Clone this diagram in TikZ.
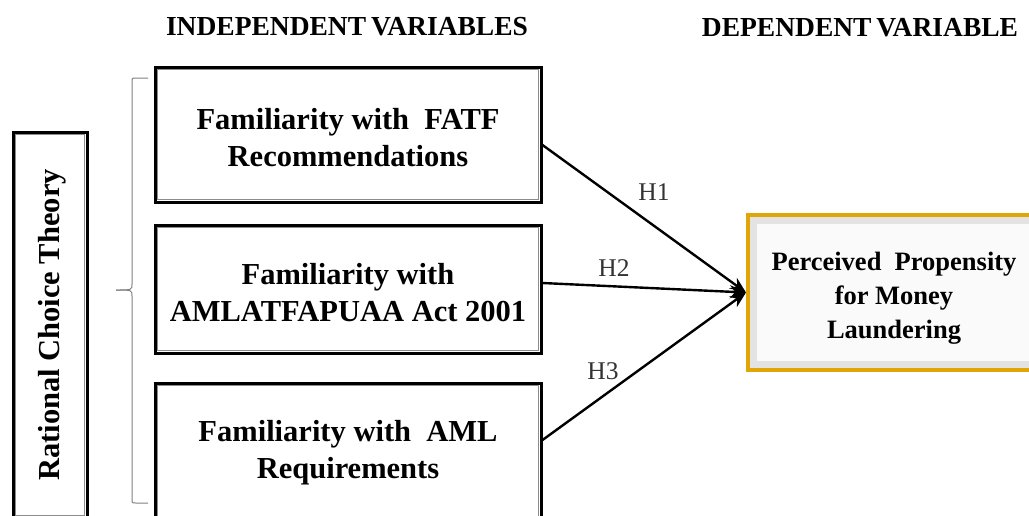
\documentclass[tikz,border=0pt]{standalone}
\usepackage{fontspec}
\setmainfont{Liberation Serif}
\usetikzlibrary{arrows.meta,shadows}
\definecolor{gold}{HTML}{E0A608}
\definecolor{framegray}{HTML}{8C8C8C}
\definecolor{bracegray}{HTML}{808080}
\tikzset{
  ivfont/.style={font=\bfseries\fontsize{30.5}{37}\selectfont},
  ivbox/.style={draw=black, line width=3pt, fill=white, minimum width=386pt,
    align=center, inner sep=0pt, ivfont,
    drop shadow={shadow xshift=1.2pt, shadow yshift=-1.2pt, opacity=0.3, fill=gray},
    path picture={\draw[framegray, line width=1.5pt]
      ([shift={(2.6pt,-2.6pt)}]path picture bounding box.north west) rectangle
      ([shift={(-2.6pt,2.6pt)}]path picture bounding box.south east);}},
  dvbox/.style={draw=gold, line width=4pt, fill=gray!22, minimum width=292pt,
    minimum height=155pt, align=center, inner sep=0pt,
    font=\bfseries\fontsize{26.5}{34}\selectfont,
    path picture={\fill[gray!4]
      ([shift={(9pt,-9pt)}]path picture bounding box.north west) rectangle
      ([shift={(-9pt,9pt)}]path picture bounding box.south east);}},
  header/.style={font=\bfseries\fontsize{27.5}{30}\selectfont, inner sep=0pt},
  hlabel/.style={font=\fontsize{25.5}{30}\selectfont, text=black!80, inner sep=0pt},
  arrowline/.style={line width=2.4pt, -{Stealth[length=16pt,width=13pt]}},
}
\begin{document}
\begin{tikzpicture}[x=1pt,y=-1pt]
\useasboundingbox (0,0) rectangle (1029,515);
\clip (0,0) rectangle (1029,515);
\fill[white] (0,0) rectangle (1029,515);

\node[header] (hi) at (347,27) {INDEPENDENT\hspace{-2pt} VARIABLES};
\node[header] (hd) at (860,28) {DEPENDENT\hspace{-2pt} VARIABLE};

\node[ivbox, minimum width=74pt, minimum height=386pt] (rct) at (50,325) {};
\node[ivfont, rotate=90] (rcttext) at (52,325) {Rational Choice Theory};

\node[ivbox, minimum height=135pt] (b1) at (348,134.5) {};
\node[ivfont, align=center] (b1text) at (348,138) {Familiarity with \ FATF\\Recommendations};
\node[ivbox, minimum height=128pt] (b2) at (348,289) {};
\node[ivfont, align=center] (b2text) at (348,293) {Familiarity with\\AMLATFAPUAA Act 2001};
\node[ivbox, minimum height=142pt] (b3) at (348,454) {};
\node[ivfont, align=center] (b3text) at (348,453) {Familiarity with \ AML\\Requirements};

\node[dvbox] (dv) at (894,292.5) {};
\node[font=\bfseries\fontsize{26.5}{34}\selectfont, align=center] (dvtext) at (894,298) {Perceived \ Propensity\\for Money\\Laundering};

% brace
\coordinate (btop) at (148,78);
\coordinate (bbot) at (148,503);
\coordinate (btip) at (116,290);
\draw[bracegray, line width=1pt] (btop) -- (136,78) .. controls (132,78) .. (132,82) -- (132,284) .. controls (132,290) .. (btip);
\draw[bracegray, line width=1pt] (bbot) -- (136,503) .. controls (132,503) .. (132,499) -- (132,296) .. controls (132,290) .. (btip);

\draw[arrowline] ([yshift=-10.5pt]b1.east) -- (dv.west);
\draw[arrowline] ([yshift=6pt]b2.east) -- (dv.west);
\draw[arrowline] ([yshift=14pt]b3.east) -- (dv.west);

\node[hlabel] (h1) at (654,192) {H1};
\node[hlabel] (h2) at (614,268) {H2};
\node[hlabel] (h3) at (603,371) {H3};
\end{tikzpicture}
\end{document}
